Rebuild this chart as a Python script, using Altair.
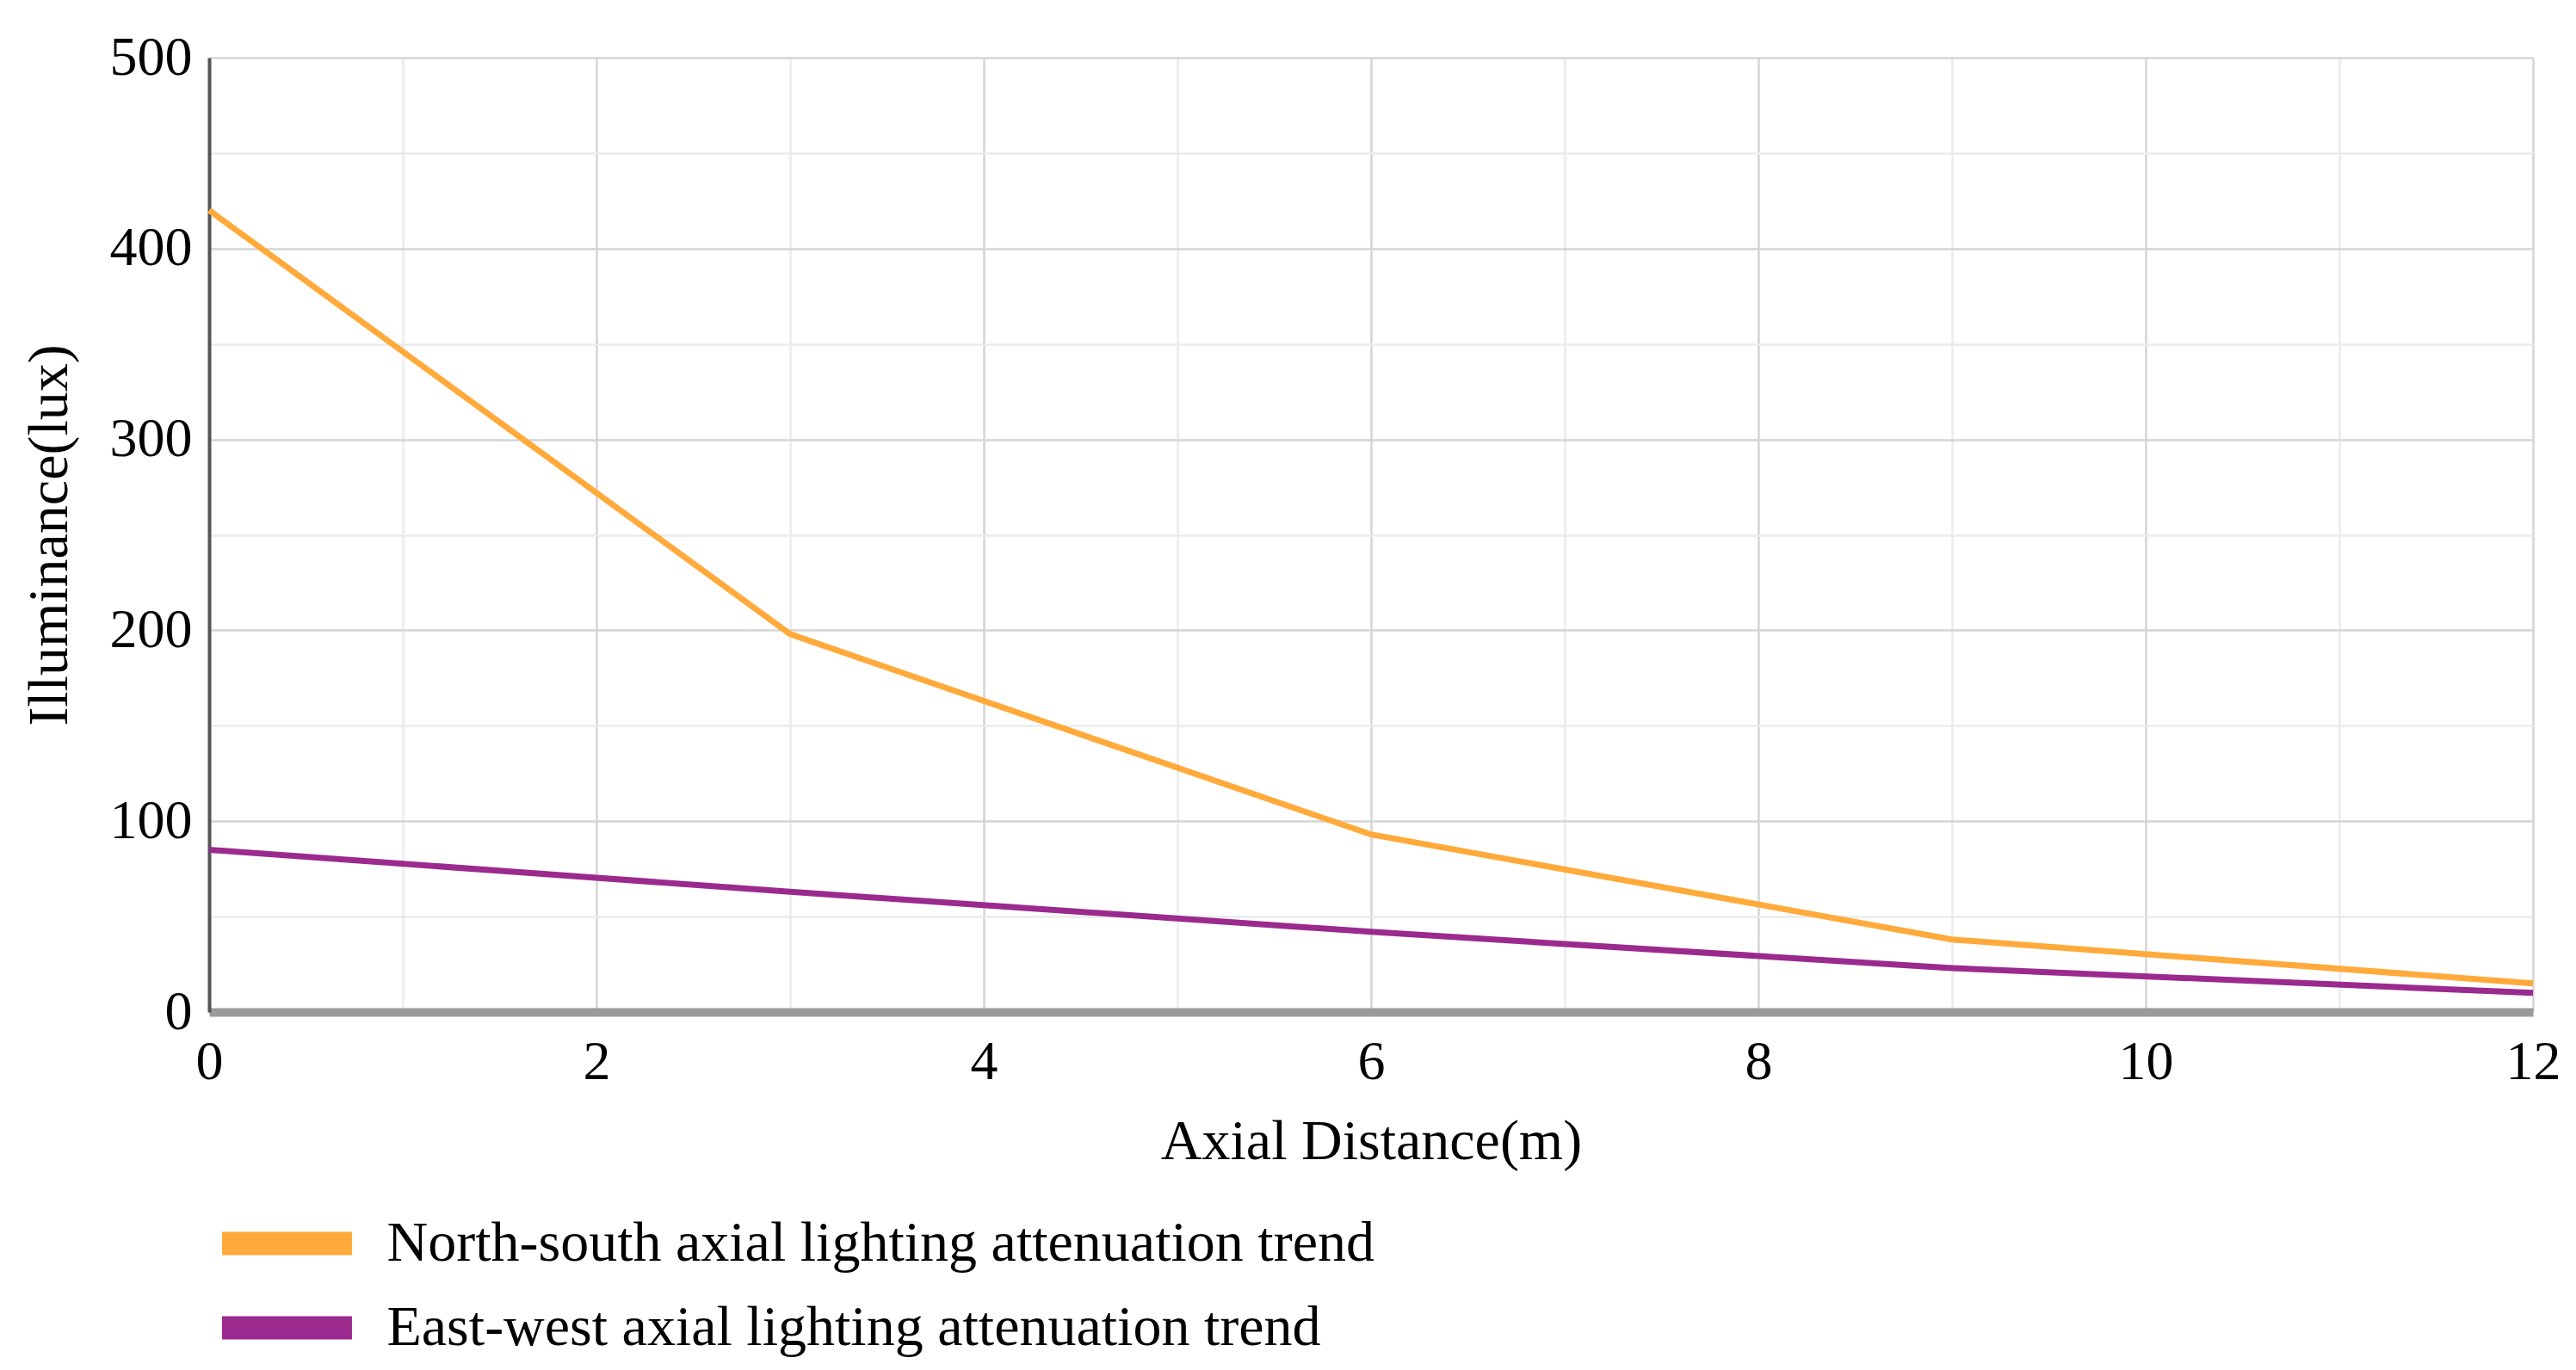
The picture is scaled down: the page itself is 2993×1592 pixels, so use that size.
import altair as alt
import pandas as pd

# Data
x_m = [0, 3, 6, 9, 12]
north_south = [420, 198, 93, 38, 15]
east_west = [85, 63, 42, 23, 10]
series_names = [
    "North-south axial lighting attenuation trend",
    "East-west axial lighting attenuation trend",
]
series_colors = ["#FFAA3B", "#9B2A8E"]
x_ticks = list(range(0, 13))
y_ticks = list(range(0, 501, 50))

rows = []
for xv, a, b in zip(x_m, north_south, east_west):
    rows.append({"x": xv, "y": a, "series": series_names[0]})
    rows.append({"x": xv, "y": b, "series": series_names[1]})
df = pd.DataFrame(rows)

FONT = "Liberation Serif"
FS = 64
TFS = 66

chart = (
    alt.Chart(df)
    .mark_line(strokeWidth=7)
    .encode(
        x=alt.X(
            "x:Q",
            scale=alt.Scale(domain=[0, 12], nice=False),
            axis=alt.Axis(
                values=x_ticks,
                labelExpr="datum.value % 2 === 0 ? datum.label : ''",
                title="Axial Distance(m)",
                ticks=False,
                labelFlush=False,
                labelPadding=26,
                titlePadding=28,
                domainColor="#9a9a9a",
                domainWidth=10,
                gridColor={"condition": {"test": "datum.value % 2 === 0", "value": "#d4d4d4"}, "value": "#ebebeb"},
                gridWidth=2.5,
            ),
        ),
        y=alt.Y(
            "y:Q",
            scale=alt.Scale(domain=[0, 500], nice=False),
            axis=alt.Axis(
                values=y_ticks,
                labelExpr="datum.value % 100 === 0 ? datum.label : ''",
                title="Illuminance(lux)",
                ticks=False,
                labelPadding=20,
                titlePadding=36,
                domainColor="#555555",
                domainWidth=4,
                gridColor={"condition": {"test": "datum.value % 100 === 0", "value": "#d4d4d4"}, "value": "#ebebeb"},
                gridWidth=2.5,
            ),
        ),
        color=alt.Color(
            "series:N",
            scale=alt.Scale(domain=series_names, range=series_colors),
            sort=series_names,
            legend=alt.Legend(
                title=None,
                orient="none",
                legendX=1.5,
                legendY=1329,
                direction="vertical",
                symbolType="M-1,0H3.44",
                symbolSize=4624,
                symbolStrokeWidth=27,
                labelOffset=110,
                labelFontSize=TFS,
                labelLimit=3000,
                clipHeight=98,
                rowPadding=0,
                padding=0,
            ),
        ),
    )
    .properties(width=2700, height=1109, padding={"left": 16, "top": 27, "right": 5, "bottom": 0})
    .configure(font=FONT)
    .configure_axis(
        labelFont=FONT,
        titleFont=FONT,
        labelFontSize=FS,
        titleFontSize=TFS,
        labelColor="#000000",
        titleColor="#000000",
        titleFontWeight="normal",
    )
    .configure_legend(labelFont=FONT, labelColor="#000000")
    .configure_view(stroke=None)
)

chart.save("out.html", embed_options={"renderer": "svg", "actions": False})
